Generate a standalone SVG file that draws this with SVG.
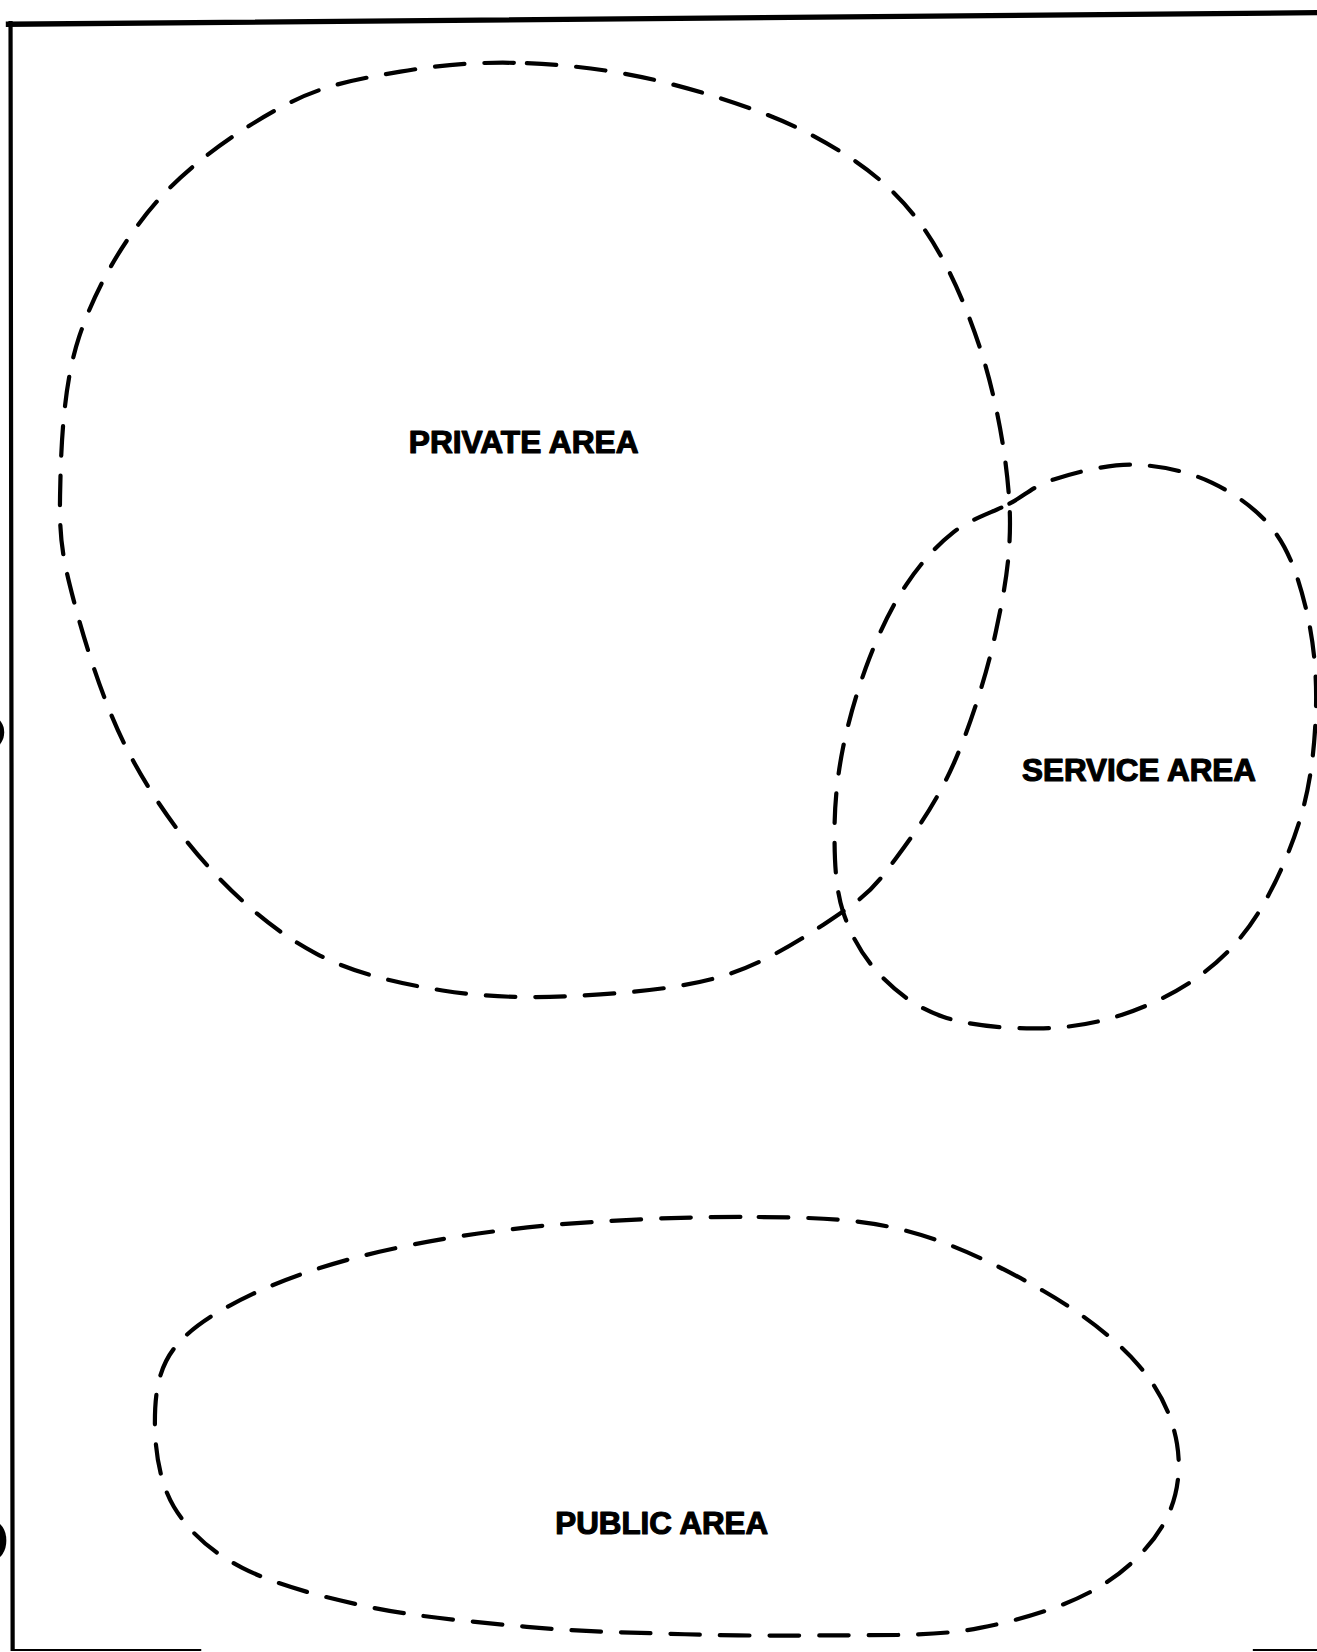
<svg xmlns="http://www.w3.org/2000/svg" width="1317" height="1652" viewBox="0 0 1317 1652">
<style>
.area{fill:none;stroke:#000;stroke-width:4;stroke-dasharray:28 19;stroke-linecap:round;stroke-linejoin:round}
.lbl{font-family:"Liberation Sans",Arial,Helvetica,sans-serif;font-weight:bold;font-size:29px;fill:#000;stroke:#000;stroke-width:1.1;stroke-linejoin:round}
.frame{fill:none;stroke:#000;stroke-linecap:square}
</style>
<rect x="0" y="0" width="1317" height="1652" fill="#fff"/>
<g transform="scale(1.05368)">
<g id="frame">
<path class="frame" d="M8,23 L1250,12" stroke-width="5"/>
<path class="frame" d="M10,22 L12,1565" stroke-width="4"/>
<path class="frame" d="M12,1566 L190,1566" stroke-width="2"/>
<path class="frame" d="M1190,1566 L1250,1566" stroke-width="2"/>
<ellipse cx="-6" cy="695" rx="10" ry="14" fill="#000"/>
<ellipse cx="-6" cy="1462" rx="12" ry="18" fill="#000"/>
</g>
<g id="private-area">
<path class="area" d="M500,60 C541.7,61.7 585,66.7 630,78 S730.3,106.8 770,128 S841.3,171.3 868,205 S915,284.5 930,330 S955.5,433 958,478 S953.8,558.8 945,600 S920.8,689.2 905,725 S867.5,791.7 850,815 S826.7,846.7 800,865 S731.7,911.7 690,925 S595,942.5 550,945 S461.7,946.7 420,940 S336.7,924.2 300,905 S230,857.5 200,825 S141.7,752.5 120,710 S80.5,610 70,570 S56.2,511.7 57,470 S59.5,366.7 75,320 S117.5,226.7 150,190 S231.7,120.3 270,100 S341.7,74.7 380,68 S458.3,58.3 500,60 Z"/>
<text class="lbl" x="388" y="430" textLength="218" lengthAdjust="spacingAndGlyphs">PRIVATE AREA</text>
</g>
<g id="service-area">
<path class="area" d="M958,478 C973.8,469.7 980.5,461.2 1000,455 S1050,440.5 1075,441 S1127.5,447.3 1150,458 S1195,484.7 1210,505 S1233.5,552.5 1240,580 S1249.7,638.3 1249,670 S1245,737.5 1236,770 S1211,839.2 1195,865 S1161.7,908.7 1140,925 S1090.8,954.5 1065,963 S1013.3,975.7 985,976 S920,973.5 895,965 S850.8,941.7 835,925 S807.2,887.5 800,865 S792,815.8 792,790 S794.5,737.5 800,710 S815,650.8 825,625 S846.7,575 860,555 S888.7,517.8 905,505 S942.2,486.3 958,478 Z"/>
<text class="lbl" x="970" y="741" textLength="222" lengthAdjust="spacingAndGlyphs">SERVICE AREA</text>
</g>
<g id="public-area">
<path class="area" d="M720,1155 C776.7,1155.8 815,1156.3 860,1168 S953.3,1203.8 990,1225 S1058.8,1270.8 1080,1295 S1112.8,1345 1117,1370 S1117.8,1422 1105,1445 S1069.2,1491.3 1040,1508 S970,1537.2 930,1545 S846.7,1551.7 800,1552 S700,1552.7 650,1551 S550,1548.7 500,1544 S395,1534.5 350,1525 S260.8,1503.8 230,1488 S178.8,1453 165,1430 S147,1375 147,1350 S149.5,1300.3 165,1280 S207.5,1243.3 240,1228 S313.3,1198.8 360,1188 S460,1168.5 520,1163 S663.3,1154.2 720,1155 Z"/>
<text class="lbl" x="527" y="1456" textLength="202" lengthAdjust="spacingAndGlyphs">PUBLIC AREA</text>
</g>
<g id="connectors"></g>
</g>
</svg>
